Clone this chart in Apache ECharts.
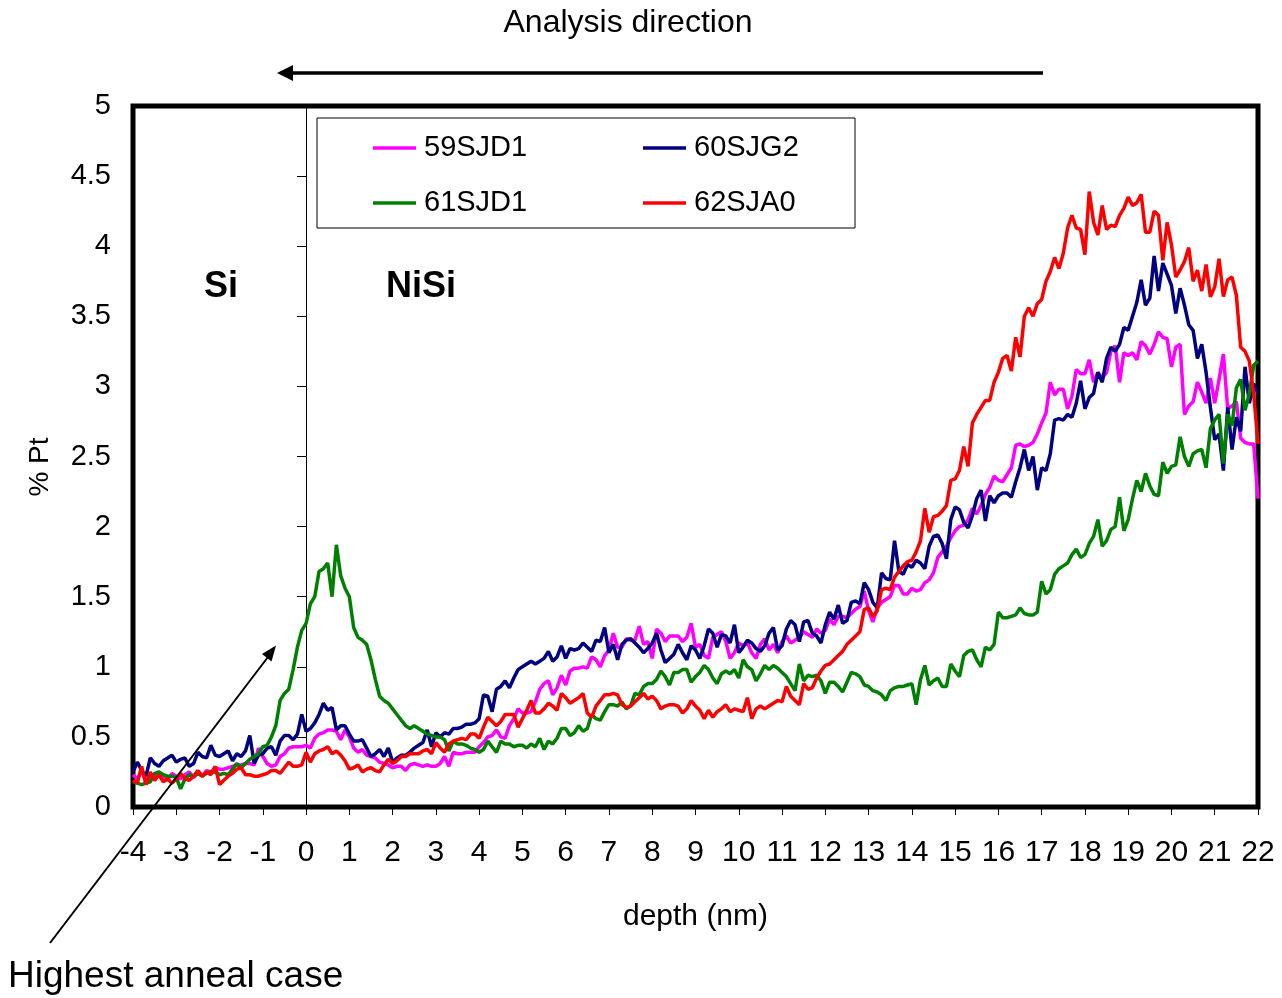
<!DOCTYPE html>
<html><head><meta charset="utf-8">
<script src="https://cdn.jsdelivr.net/npm/echarts@6/dist/echarts.min.js"></script>
<style>html,body{margin:0;padding:0;background:#fff}#chart{width:1282px;height:998px}</style>
</head><body><div id="chart"></div>
<script>
// sampling grid of depth (nm): first sample and spacing
const depthStart = -4;
const depthStep = 0.1;
const seriesNames = ['59SJD1', '60SJG2', '61SJD1', '62SJA0'];
const seriesColors = ['#FF00FF', '#000080', '#008000', '#FF0000'];
const xTickMin = -4, xTickMax = 22, xTickStep = 1;
const yTickMin = 0, yTickMax = 5, yTickStep = 0.5;

// % Pt values, one per 0.1 nm from -4.0 to 22.0 (rows of 1 nm)
const s59SJD1 = [
 .23,.20,.26,.18,.22,.20,.25,.22,.19,.24,
 .22,.20,.23,.25,.21,.24,.22,.26,.25,.28,
 .27,.27,.28,.29,.30,.30,.31,.31,.30,.42,
 .36,.31,.29,.30,.36,.38,.42,.43,.43,.43,
 .44,.42,.49,.52,.53,.55,.55,.54,.48,.55,
 .50,.42,.39,.41,.37,.36,.35,.32,.31,.30,
 .28,.29,.29,.26,.30,.31,.30,.29,.30,.29,
 .29,.31,.36,.29,.39,.38,.38,.39,.39,.39,
 .43,.46,.50,.51,.55,.50,.49,.58,.63,.70,
 .67,.67,.68,.75,.84,.88,.90,.80,.85,.94,
 .87,.97,.99,.99,1.00,.99,1.07,1.05,1.00,1.08,
 1.12,1.24,1.14,1.14,1.20,1.19,1.19,1.29,1.16,1.18,
 1.06,1.27,1.24,1.18,1.22,1.22,1.22,1.18,1.21,1.31,
 1.14,1.16,1.08,1.06,1.21,1.23,1.25,1.18,1.06,1.10,
 1.17,1.15,1.17,1.10,1.06,1.16,1.20,1.12,1.16,1.10,
 1.18,1.22,1.17,1.19,1.21,1.25,1.23,1.21,1.27,1.24,
 1.26,1.34,1.30,1.36,1.36,1.35,1.38,1.41,1.43,1.54,
 1.40,1.32,1.42,1.46,1.48,1.50,1.58,1.58,1.52,1.52,
 1.56,1.54,1.55,1.60,1.62,1.67,1.78,1.82,1.86,1.92,
 1.97,2.00,2.01,2.05,2.13,2.09,2.15,2.23,2.28,2.36,
 2.33,2.32,2.37,2.42,2.58,2.59,2.57,2.58,2.60,2.66,
 2.74,2.81,3.03,2.94,2.98,2.98,2.84,2.93,3.12,3.09,
 3.09,3.19,3.03,3.10,3.06,3.10,3.25,3.29,3.03,3.24,
 3.22,3.24,3.19,3.32,3.29,3.23,3.30,3.39,3.35,3.34,
 3.14,3.28,3.30,2.80,2.86,2.89,3.03,2.96,2.88,3.06,
 2.88,3.05,3.23,2.84,2.86,2.89,2.63,2.60,2.59,2.59,
 2.20
];
const s60SJG2 = [
 .25,.32,.26,.22,.35,.31,.29,.33,.35,.37,
 .32,.34,.35,.29,.31,.39,.36,.35,.44,.37,
 .36,.38,.40,.33,.38,.36,.40,.51,.31,.37,
 .38,.42,.43,.37,.47,.51,.51,.48,.52,.66,
 .54,.56,.60,.66,.74,.69,.71,.55,.58,.58,
 .52,.47,.47,.48,.42,.36,.38,.41,.36,.42,
 .32,.35,.37,.37,.39,.42,.44,.46,.55,.43,
 .53,.50,.53,.52,.56,.56,.57,.59,.59,.60,
 .63,.80,.79,.68,.84,.86,.90,.85,.92,.98,
 1.00,1.02,1.04,1.02,1.04,1.06,1.11,1.04,1.07,1.15,
 1.06,1.13,1.12,1.13,1.17,1.14,1.11,1.19,1.18,1.28,
 1.10,1.16,1.05,1.16,1.19,1.20,1.17,1.14,1.10,1.13,
 1.17,1.24,1.12,1.03,1.06,1.09,1.16,1.10,1.05,1.15,
 1.12,1.06,1.15,1.27,1.24,1.14,1.23,1.22,1.17,1.30,
 1.10,1.14,1.19,1.17,1.13,1.11,1.15,1.24,1.28,1.12,
 1.15,1.27,1.33,1.30,1.18,1.32,1.33,1.24,1.22,1.17,
 1.30,1.39,1.34,1.44,1.31,1.33,1.46,1.47,1.45,1.60,
 1.55,1.46,1.42,1.67,1.63,1.62,1.90,1.68,1.66,1.73,
 1.71,1.76,1.74,1.70,1.86,1.93,1.94,1.88,1.77,2.05,
 2.14,2.12,2.03,1.99,2.08,2.20,2.26,2.04,2.22,2.17,
 2.22,2.24,2.24,2.21,2.32,2.42,2.55,2.40,2.50,2.26,
 2.42,2.40,2.52,2.76,2.77,2.76,2.80,2.78,2.88,3.04,
 2.84,2.92,2.95,3.10,3.03,3.20,3.28,3.25,3.30,3.42,
 3.40,3.50,3.60,3.76,3.58,3.63,3.93,3.68,3.88,3.80,
 3.72,3.52,3.70,3.58,3.44,3.40,3.20,3.30,3.10,2.85,
 2.62,2.66,2.40,2.85,2.55,2.78,2.68,3.14,2.88,3.02,
 2.95
];
const s61SJD1 = [
 .18,.17,.16,.17,.18,.24,.25,.23,.22,.22,
 .21,.13,.20,.23,.22,.24,.22,.24,.25,.25,
 .23,.24,.23,.27,.31,.28,.31,.34,.36,.38,
 .43,.44,.50,.58,.76,.81,.84,.98,1.14,1.26,
 1.31,1.45,1.50,1.68,1.70,1.74,1.50,1.87,1.65,1.56,
 1.50,1.28,1.21,1.19,1.16,1.05,.91,.79,.76,.74,
 .70,.66,.62,.58,.56,.58,.56,.54,.52,.51,
 .50,.50,.48,.40,.47,.45,.45,.44,.42,.41,
 .39,.41,.47,.43,.39,.47,.45,.45,.43,.44,
 .44,.42,.45,.43,.49,.41,.47,.45,.49,.56,
 .56,.51,.53,.58,.54,.56,.66,.63,.62,.68,
 .73,.73,.72,.75,.70,.72,.81,.80,.86,.88,
 .88,.91,.97,.93,.87,.96,.96,.98,.98,.89,
 .93,.96,1.01,.98,.92,.88,.95,.97,.95,.98,
 .92,1.05,1.00,.98,.90,.95,1.01,.98,1.01,.99,
 .96,.93,.88,.83,1.02,.90,.94,.93,.94,.90,
 .81,.89,.89,.86,.82,.89,.96,.95,.93,.87,
 .86,.83,.82,.80,.76,.83,.85,.86,.86,.87,
 .88,.73,.91,1.01,.87,.90,.92,.86,.86,1.02,
 .97,.93,1.08,1.11,1.12,1.05,1.00,1.14,1.12,1.16,
 1.39,1.35,1.35,1.36,1.37,1.42,1.38,1.37,1.37,1.39,
 1.61,1.52,1.55,1.66,1.70,1.72,1.74,1.80,1.84,1.78,
 1.80,1.88,1.93,2.05,1.86,1.90,1.98,2.00,2.21,1.97,
 2.05,2.20,2.33,2.25,2.38,2.29,2.23,2.22,2.46,2.38,
 2.43,2.44,2.64,2.50,2.43,2.52,2.54,2.55,2.42,2.70,
 2.76,2.80,2.45,2.80,2.72,2.99,3.05,2.83,2.95,3.15,
 3.18
];
const s62SJA0 = [
 .19,.17,.29,.16,.25,.19,.23,.18,.20,.17,
 .20,.24,.20,.19,.22,.26,.22,.25,.23,.29,
 .16,.19,.22,.24,.27,.28,.23,.23,.22,.22,
 .23,.24,.26,.26,.24,.28,.32,.29,.29,.30,
 .39,.32,.38,.40,.41,.43,.38,.40,.37,.33,
 .27,.28,.30,.25,.27,.28,.26,.25,.30,.34,
 .31,.33,.36,.36,.38,.38,.38,.40,.41,.38,
 .46,.42,.39,.45,.47,.48,.49,.48,.52,.52,
 .49,.57,.64,.61,.58,.61,.66,.66,.66,.57,
 .63,.69,.76,.67,.67,.70,.74,.72,.69,.81,
 .78,.74,.76,.78,.81,.67,.64,.72,.76,.80,
 .80,.81,.80,.73,.71,.72,.75,.78,.81,.77,
 .79,.76,.70,.72,.73,.73,.72,.67,.70,.76,
 .72,.69,.63,.69,.64,.68,.70,.73,.68,.70,
 .69,.68,.78,.63,.70,.72,.70,.72,.74,.76,
 .75,.86,.79,.76,.73,.88,.84,.85,.92,.97,
 1.01,1.02,1.05,1.08,1.11,1.16,1.19,1.22,1.25,1.41,
 1.42,1.36,1.40,1.55,1.56,1.55,1.64,1.68,1.72,1.75,
 1.76,1.82,1.90,2.13,1.96,2.07,2.08,2.11,2.15,2.33,
 2.34,2.40,2.57,2.43,2.74,2.80,2.85,2.90,2.90,3.03,
 3.10,3.20,3.22,3.11,3.35,3.21,3.50,3.56,3.50,3.59,
 3.62,3.75,3.82,3.92,3.84,3.95,4.13,4.22,4.13,4.12,
 3.94,4.39,4.17,4.08,4.29,4.12,4.15,4.14,4.22,4.27,
 4.35,4.29,4.31,4.37,4.10,4.10,4.25,4.22,3.90,4.17,
 4.01,3.78,3.83,3.89,3.99,3.75,3.83,3.68,3.87,3.64,
 3.71,3.91,3.64,3.76,3.78,3.65,3.28,3.25,3.18,2.95,
 2.59
];
const seriesValues = [s59SJD1, s60SJG2, s61SJD1, s62SJA0];

const FONT = '"Liberation Sans", Arial, Helvetica, sans-serif';
const toPairs = vals => vals.map((v, i) => [+(depthStart + i * depthStep).toFixed(2), v]);

const chart = echarts.init(document.getElementById('chart'), null, {renderer: 'canvas'});

const legendPos = [[373, 133], [643, 133], [373, 188], [643, 188]];

const option = {
  animation: false,
  backgroundColor: '#ffffff',
  textStyle: {fontFamily: FONT, color: '#000'},
  grid: {left: 133, right: 24, top: 106, bottom: 191, show: true,
         borderColor: '#000', borderWidth: 5, backgroundColor: '#fff'},
  xAxis: {
    type: 'value', min: xTickMin, max: xTickMax, interval: xTickStep,
    name: 'depth (nm)', nameLocation: 'middle', nameGap: 95,
    nameTextStyle: {fontSize: 30, color: '#000', fontFamily: FONT},
    axisLine: {show: false},
    axisTick: {show: true, length: 8, lineStyle: {color: '#000', width: 1}},
    axisLabel: {fontSize: 30, color: '#000', margin: 31, fontFamily: FONT},
    splitLine: {show: false}
  },
  yAxis: [{
    type: 'value', min: yTickMin, max: yTickMax, interval: yTickStep,
    axisLine: {show: false}, axisTick: {show: false},
    axisLabel: {fontSize: 29, color: '#000', margin: 22, fontFamily: FONT},
    splitLine: {show: false}
  }, {
    type: 'value', min: yTickMin, max: yTickMax, interval: yTickStep,
    position: 'left', offset: -173,
    axisLine: {show: true, lineStyle: {color: '#000', width: 1}},
    axisTick: {show: true, length: 9, lineStyle: {color: '#000', width: 1}},
    axisLabel: {show: false},
    splitLine: {show: false}
  }],
  legend: seriesNames.map((n, i) => ({
    data: [n], left: legendPos[i][0], top: legendPos[i][1],
    icon: 'rect', itemWidth: 43, itemHeight: 3.5, itemGap: 0, padding: 0,
    selectedMode: false,
    textStyle: {fontSize: 29, color: '#000', fontFamily: FONT, lineHeight: 30,
                padding: [0, 0, 0, 3]}
  })),
  series: seriesNames.map((n, i) => ({
    name: n, type: 'line', showSymbol: false, symbol: 'none',
    color: seriesColors[i],
    lineStyle: {color: seriesColors[i], width: 3.5},
    data: toPairs(seriesValues[i]),
    z: 2 + i
  })),
  graphic: [
    {type: 'rect', z: 1, shape: {x: 317, y: 118, width: 538, height: 110},
     style: {fill: '#fff', stroke: '#000', lineWidth: 1}},
    {type: 'text', z: 10, x: 628, y: 23,
     style: {text: 'Analysis direction', fontSize: 32, fontFamily: FONT, fill: '#000',
             align: 'center', verticalAlign: 'middle'}},
    {type: 'line', z: 10, shape: {x1: 1043, y1: 73, x2: 288, y2: 73},
     style: {stroke: '#000', lineWidth: 3.5}},
    {type: 'polygon', z: 10, shape: {points: [[277, 73], [293, 65], [293, 81]]},
     style: {fill: '#000'}},
    {type: 'text', z: 10, x: 221, y: 287,
     style: {text: 'Si', fontSize: 36, fontWeight: 'bold', fontFamily: FONT, fill: '#000',
             align: 'center', verticalAlign: 'middle'}},
    {type: 'text', z: 10, x: 421, y: 287,
     style: {text: 'NiSi', fontSize: 36, fontWeight: 'bold', fontFamily: FONT, fill: '#000',
             align: 'center', verticalAlign: 'middle'}},
    {type: 'text', z: 10, x: 40, y: 467, rotation: Math.PI / 2,
     style: {text: '% Pt', fontSize: 28, fontFamily: FONT, fill: '#000',
             align: 'center', verticalAlign: 'middle'}},
    {type: 'line', z: 10, shape: {x1: 50, y1: 943, x2: 268, y2: 657},
     style: {stroke: '#000', lineWidth: 2}},
    {type: 'polygon', z: 10, shape: {points: [[276, 645.5], [262, 654], [271.5, 661.5]]},
     style: {fill: '#000'}},
    {type: 'text', z: 10, x: 8, y: 977,
     style: {text: 'Highest anneal case', fontSize: 37, fontFamily: FONT, fill: '#000',
             align: 'left', verticalAlign: 'middle'}}
  ]
};
chart.setOption(option);
</script>
</body></html>
